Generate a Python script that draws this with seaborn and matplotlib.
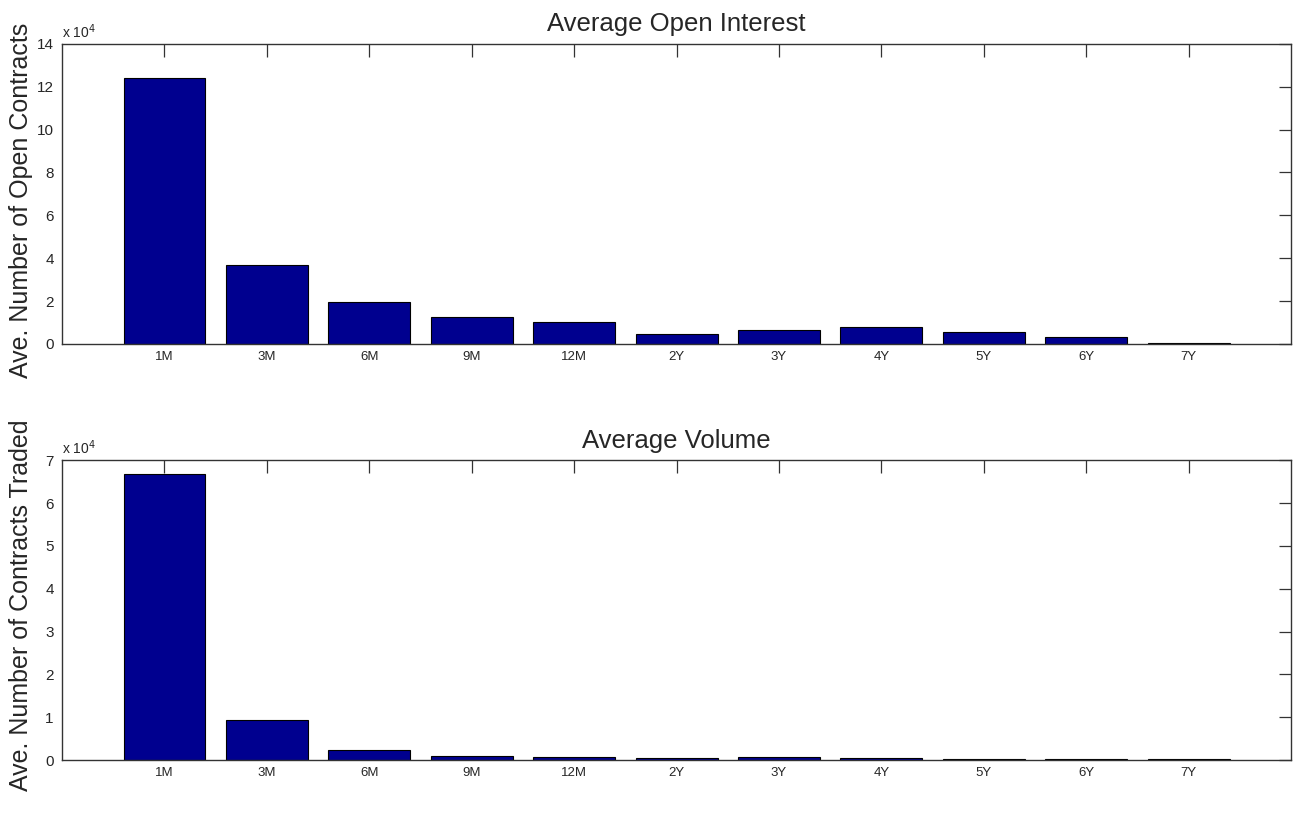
import matplotlib
matplotlib.use("Agg")
import matplotlib.pyplot as plt
import pandas as pd
import seaborn as sns
from matplotlib.ticker import FuncFormatter, MultipleLocator

maturities = ["1M", "3M", "6M", "9M", "12M", "2Y", "3Y", "4Y", "5Y", "6Y", "7Y"]
open_interest = [124000, 37000, 19600, 12600, 10300, 4700, 6400, 8000, 5500, 3300, 500]
volume = [66700, 9300, 2300, 1000, 800, 400, 700, 400, 350, 350, 350]

BAR_COLOR = "#00008F"

sns.set_style("white")
plt.rcParams["font.family"] = ["Liberation Sans", "DejaVu Sans"]

fig = plt.figure(figsize=(12.93, 8.13), dpi=100)
ax_top = fig.add_axes([0.048, 0.577, 0.9505, 0.369])
ax_bot = fig.add_axes([0.048, 0.065, 0.9505, 0.369])

panels = [
    (ax_top, open_interest, "Average Open Interest", "Ave. Number of Open Contracts", 14, 2, 0.48),
    (ax_bot, volume, "Average Volume", "Ave. Number of Contracts Traded", 7, 1, 0.515),
]

for ax, values, title, ylabel, ymax, step, label_y in panels:
    df = pd.DataFrame({"maturity": maturities, "value": values})
    sns.barplot(
        data=df, x="maturity", y="value", color=BAR_COLOR, saturation=1,
        width=0.8, edgecolor="black", linewidth=0.8, ax=ax,
    )
    ax.set_xlim(-1, len(maturities))
    ax.set_ylim(0, ymax * 1e4)
    ax.yaxis.set_major_locator(MultipleLocator(step * 1e4))
    ax.yaxis.set_major_formatter(FuncFormatter(lambda v, _: f"{v / 1e4:g}"))
    ax.tick_params(axis="both", direction="in", length=9, width=0.9,
                   color="#333333", top=True, right=True, labelsize=11,
                   pad=6)
    ax.tick_params(axis="x", labelsize=9.5, pad=5)
    for sp in ax.spines.values():
        sp.set_visible(True)
        sp.set_color("#333333")
        sp.set_linewidth(1)
    ax.set_xlabel("")
    ax.set_ylabel(ylabel, fontsize=18)
    ax.yaxis.set_label_coords(-0.024, label_y)
    ax.set_title(title, fontsize=18.5, pad=9)
    ax.text(0.0, 1.01, "x 10$^4$", transform=ax.transAxes, fontsize=10,
            ha="left", va="bottom")

fig.savefig("out.png", dpi=100, facecolor="white")
